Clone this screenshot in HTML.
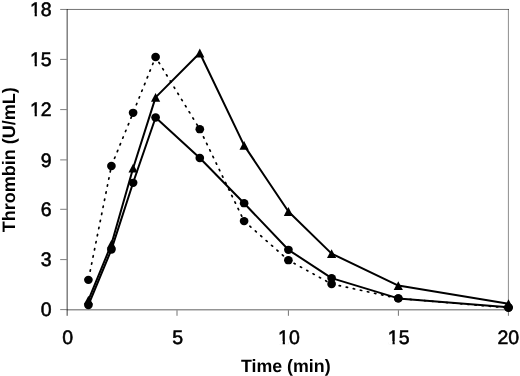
<!DOCTYPE html>
<html><head><meta charset="utf-8"><title>Thrombin generation</title>
<style>
html,body{margin:0;padding:0;background:#fff;}
svg{display:block;}
text{font-family:"Liberation Sans",Arial,sans-serif;text-rendering:geometricPrecision;}
</style></head><body>
<svg width="520" height="376" viewBox="0 0 520 376">
<rect width="520" height="376" fill="#fff"/>
<line x1="66.6" y1="9.45" x2="508.9" y2="9.45" stroke="#000" stroke-width="1" stroke-opacity="0.55"/><line x1="508.4" y1="9.0" x2="508.4" y2="309.5" stroke="#000" stroke-width="1" stroke-opacity="0.45"/><line x1="67.15" y1="9.0" x2="67.15" y2="315.8" stroke="#000" stroke-width="1" stroke-opacity="0.75"/><line x1="66.6" y1="309.7" x2="508.9" y2="309.7" stroke="#000" stroke-width="1.4" stroke-opacity="0.42"/><line x1="60.2" y1="309.6" x2="66.6" y2="309.6" stroke="#000" stroke-width="1" stroke-opacity="0.5"/><line x1="60.2" y1="259.6" x2="66.6" y2="259.6" stroke="#000" stroke-width="1" stroke-opacity="0.5"/><line x1="60.2" y1="209.3" x2="66.6" y2="209.3" stroke="#000" stroke-width="1" stroke-opacity="0.5"/><line x1="60.2" y1="159.9" x2="66.6" y2="159.9" stroke="#000" stroke-width="1" stroke-opacity="0.5"/><line x1="60.2" y1="109.6" x2="66.6" y2="109.6" stroke="#000" stroke-width="1" stroke-opacity="0.5"/><line x1="60.2" y1="59.4" x2="66.6" y2="59.4" stroke="#000" stroke-width="1" stroke-opacity="0.5"/><line x1="60.2" y1="9.45" x2="66.6" y2="9.45" stroke="#000" stroke-width="1" stroke-opacity="0.5"/><line x1="177.0" y1="310.4" x2="177.0" y2="315.8" stroke="#000" stroke-width="1" stroke-opacity="0.55"/><line x1="288.4" y1="310.4" x2="288.4" y2="315.8" stroke="#000" stroke-width="1" stroke-opacity="0.55"/><line x1="398.4" y1="310.4" x2="398.4" y2="315.8" stroke="#000" stroke-width="1" stroke-opacity="0.55"/><line x1="508.4" y1="310.4" x2="508.4" y2="315.8" stroke="#000" stroke-width="1" stroke-opacity="0.55"/>
<g font-size="19.5" fill="#000" stroke="#000" stroke-width="0.55"><text x="51.7" y="15.75" text-anchor="end">18</text><text x="51.7" y="65.8" text-anchor="end">15</text><text x="51.7" y="116.0" text-anchor="end">12</text><text x="51.7" y="166.5" text-anchor="end">9</text><text x="51.7" y="215.7" text-anchor="end">6</text><text x="51.7" y="265.8" text-anchor="end">3</text><text x="51.7" y="315.9" text-anchor="end">0</text><text x="67.6" y="343.6" text-anchor="middle">0</text><text x="177.6" y="343.6" text-anchor="middle">5</text><text x="288.9" y="343.6" text-anchor="middle">10</text><text x="398.7" y="343.6" text-anchor="middle">15</text><text x="508.3" y="343.6" text-anchor="middle">20</text></g>
<g fill="#fff"><rect x="30.81" y="13.15" width="3.85" height="3.9"/><rect x="36.89" y="13.15" width="3.67" height="3.9"/><rect x="30.81" y="63.20" width="3.85" height="3.9"/><rect x="36.89" y="63.20" width="3.67" height="3.9"/><rect x="30.81" y="113.40" width="3.85" height="3.9"/><rect x="36.89" y="113.40" width="3.67" height="3.9"/><rect x="278.86" y="341.00" width="3.85" height="3.9"/><rect x="284.93" y="341.00" width="3.67" height="3.9"/><rect x="388.66" y="341.00" width="3.85" height="3.9"/><rect x="394.73" y="341.00" width="3.67" height="3.9"/></g>
<text x="285.8" y="371.5" text-anchor="middle" font-size="17.8" font-weight="bold">Time (min)</text>
<text transform="translate(14.7 159.8) rotate(-90)" x="0" y="0" text-anchor="middle" font-size="18" font-weight="bold">Thrombin (U/mL)</text>
<g fill="none" stroke="#000" stroke-width="2.0" stroke-linejoin="round">
<polyline points="88.40,279.85 111.40,166.00 133.10,112.80 155.60,57.00 199.80,129.20 244.10,221.10 288.40,260.20 331.60,284.00 398.30,298.40 508.50,307.90" stroke-dasharray="1.35 5.88" stroke-dashoffset="-1.57" stroke-width="1.7" stroke-linecap="round"/>
<polyline points="88.40,305.00 111.40,249.60 133.10,182.80 155.60,117.50 199.80,158.00 244.10,203.20 288.40,249.80 331.60,278.10 398.30,298.40 508.50,307.30"/>
<polyline points="88.40,300.20 111.40,244.20 133.10,168.20 155.60,97.40 199.80,53.00 244.10,145.40 288.40,211.50 331.60,253.60 398.30,285.60 508.50,303.70"/>
</g>
<g fill="#000"><ellipse cx="88.40" cy="279.85" rx="4.35" ry="4.15"/><ellipse cx="111.40" cy="166.00" rx="4.35" ry="4.15"/><ellipse cx="133.10" cy="112.80" rx="4.35" ry="4.15"/><ellipse cx="155.60" cy="57.00" rx="4.35" ry="4.15"/><ellipse cx="199.80" cy="129.20" rx="4.35" ry="4.15"/><ellipse cx="244.10" cy="221.10" rx="4.35" ry="4.15"/><ellipse cx="288.40" cy="260.20" rx="4.35" ry="4.15"/><ellipse cx="331.60" cy="284.00" rx="4.35" ry="4.15"/><ellipse cx="398.30" cy="298.40" rx="4.35" ry="4.15"/><ellipse cx="508.50" cy="307.90" rx="4.35" ry="4.15"/><ellipse cx="88.40" cy="305.00" rx="4.35" ry="4.15"/><ellipse cx="111.40" cy="249.60" rx="4.35" ry="4.15"/><ellipse cx="133.10" cy="182.80" rx="4.35" ry="4.15"/><ellipse cx="155.60" cy="117.50" rx="4.35" ry="4.15"/><ellipse cx="199.80" cy="158.00" rx="4.35" ry="4.15"/><ellipse cx="244.10" cy="203.20" rx="4.35" ry="4.15"/><ellipse cx="288.40" cy="249.80" rx="4.35" ry="4.15"/><ellipse cx="331.60" cy="278.10" rx="4.35" ry="4.15"/><ellipse cx="398.30" cy="298.40" rx="4.35" ry="4.15"/><ellipse cx="508.50" cy="307.30" rx="4.35" ry="4.15"/><polygon points="88.40,295.80 93.00,304.60 83.80,304.60"/><polygon points="111.40,239.80 116.00,248.60 106.80,248.60"/><polygon points="133.10,163.80 137.70,172.60 128.50,172.60"/><polygon points="155.60,93.00 160.20,101.80 151.00,101.80"/><polygon points="199.80,48.60 204.40,57.40 195.20,57.40"/><polygon points="244.10,141.00 248.70,149.80 239.50,149.80"/><polygon points="288.40,207.10 293.00,215.90 283.80,215.90"/><polygon points="331.60,249.20 336.20,258.00 327.00,258.00"/><polygon points="398.30,281.20 402.90,290.00 393.70,290.00"/><polygon points="508.50,299.30 513.10,308.10 503.90,308.10"/></g>
</svg>
</body></html>
